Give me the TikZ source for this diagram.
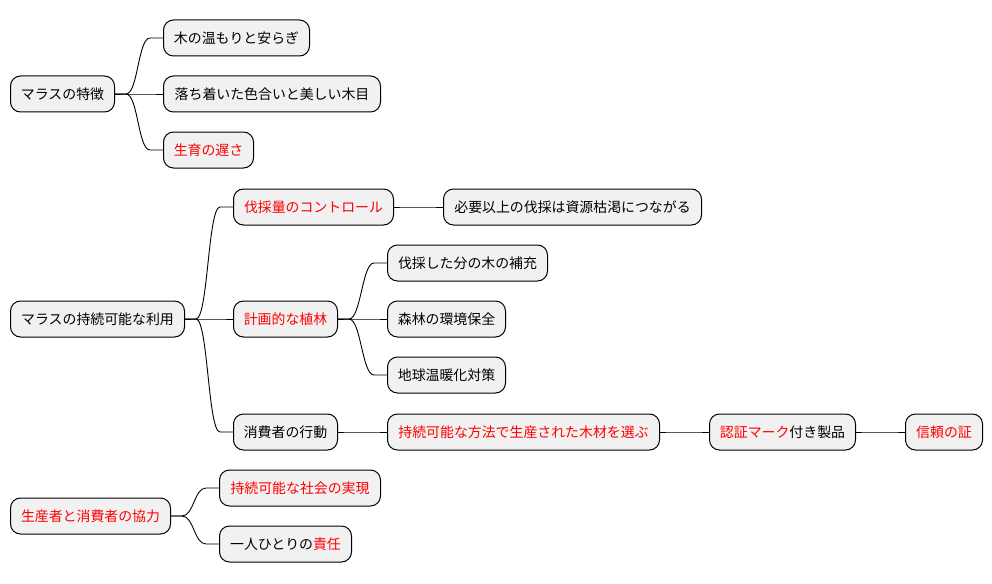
\documentclass[tikz,border=0pt]{standalone}
\usepackage{fontspec}
\setmainfont{Noto Sans CJK JP}
\usetikzlibrary{calc}
\definecolor{boxfill}{HTML}{F1F1F1}
\definecolor{hl}{HTML}{FF0000}
\tikzset{
  box/.style={draw=black, line width=1pt, fill=boxfill, rounded corners=10pt,
    anchor=west, minimum height=36pt, inner xsep=6pt, inner ysep=0pt,
    font=\fontsize{13.9pt}{15pt}\selectfont, text=black},
  conn/.style={draw=black, line width=0.9pt},
}
\newcommand\mmlink[2]{\draw[conn] (#1.east) -- ++(11,0) .. controls +(12,0) and +(-12,0) .. ($(#2.west)+(-13,0)$) -- (#2.west);}
\begin{document}
\begin{tikzpicture}[x=1pt,y=-1pt]
\useasboundingbox (0,0) rectangle (992,583);
% tree 1
\node[box, minimum width=104pt] (r1) at (10,94) {マラスの特徴};
\node[box, minimum width=146pt] (a1) at (163,38) {木の温もりと安らぎ};
\node[box, minimum width=217pt] (a2) at (163,94) {落ち着いた色合いと美しい木目};
\node[box, minimum width=90pt, text=hl] (a3) at (163,150) {生育の遅さ};
% tree 2
\node[box, minimum width=174pt] (r2) at (10,319) {マラスの持続可能な利用};
\node[box, minimum width=160pt, text=hl] (b1) at (233,207) {伐採量のコントロール};
\node[box, minimum width=258pt] (b11) at (443,207) {必要以上の伐採は資源枯渇につながる};
\node[box, minimum width=104pt, text=hl] (b2) at (233,319) {計画的な植林};
\node[box, minimum width=160pt] (b21) at (387,263) {伐採した分の木の補充};
\node[box, minimum width=118pt] (b22) at (387,319) {森林の環境保全};
\node[box, minimum width=118pt] (b23) at (387,375) {地球温暖化対策};
\node[box, minimum width=104pt] (b3) at (233,432) {消費者の行動};
\node[box, minimum width=272pt, text=hl] (b31) at (387,432) {持続可能な方法で生産された木材を選ぶ};
\node[box, minimum width=146pt] (b32) at (709,432) {\textcolor{hl}{認証マーク}付き製品};
\node[box, minimum width=77pt, text=hl] (b33) at (905,432) {信頼の証};
% tree 3
\node[box, minimum width=160pt, text=hl] (r3) at (10,516) {生産者と消費者の協力};
\node[box, minimum width=161pt, text=hl] (c1) at (219,488) {持続可能な社会の実現};
\node[box, minimum width=132pt] (c2) at (219,544) {一人ひとりの\textcolor{hl}{責任}};
% links
\mmlink{r1}{a1}
\mmlink{r1}{a2}
\mmlink{r1}{a3}
\mmlink{r2}{b1}
\mmlink{r2}{b2}
\mmlink{r2}{b3}
\mmlink{b1}{b11}
\mmlink{b2}{b21}
\mmlink{b2}{b22}
\mmlink{b2}{b23}
\mmlink{b3}{b31}
\mmlink{b31}{b32}
\mmlink{b32}{b33}
\mmlink{r3}{c1}
\mmlink{r3}{c2}
\end{tikzpicture}
\end{document}
